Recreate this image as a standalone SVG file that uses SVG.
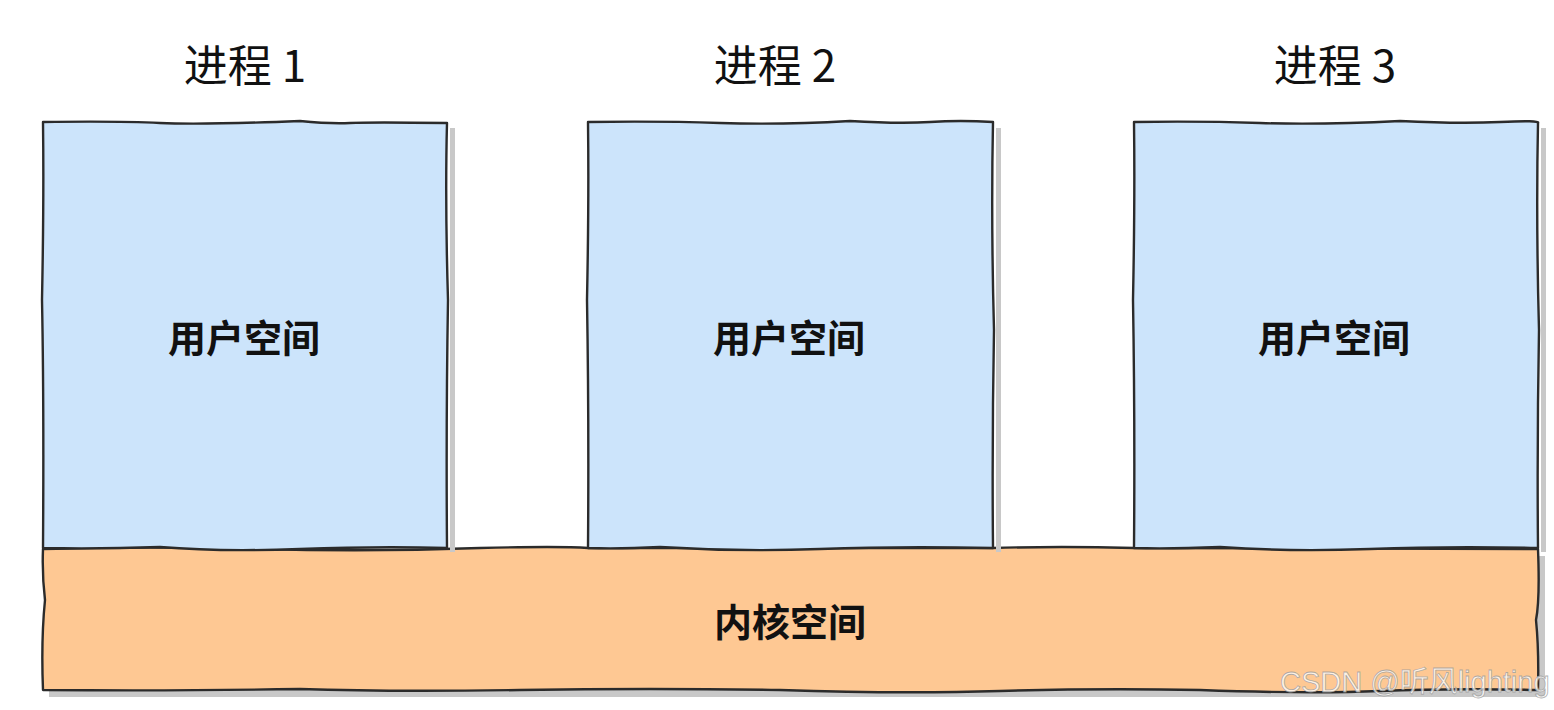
<svg xmlns="http://www.w3.org/2000/svg" width="1554" height="710" viewBox="0 0 1554 710">
<style>
.shadow{fill:#c8c8c8;stroke:none}
.user{fill:#cce4fb;stroke:#2b2b2b;stroke-width:2.4;stroke-linejoin:round}
.kern{fill:#fec893;stroke:#2b2b2b;stroke-width:2.4;stroke-linejoin:round}
.title{font-family:"Noto Sans CJK SC","Liberation Sans",sans-serif;font-size:44px;fill:#111;text-anchor:middle}
.lbl{font-family:"Noto Sans CJK SC","Liberation Sans",sans-serif;font-size:38px;font-weight:bold;fill:#111;text-anchor:middle}
.wm{font-family:"Liberation Sans","Noto Sans CJK SC",sans-serif;font-size:29px;fill:#ffffff;fill-opacity:0.75;stroke:#9a9a9a;stroke-width:0.8;stroke-opacity:0.8}
</style>
<rect width="1554" height="710" fill="#ffffff"/>
<g id="kernel">
<rect class="shadow" x="49" y="556" width="1496" height="141"/>
<path class="kern" d="M43,549 Q150,546 260,549 T480,548 Q560,546 588,548 L993,548 Q1060,546 1134,548 L1538,549 Q1540,600 1536,620 Q1539,650 1538,690 Q1450,688 1380,691 T1200,690 Q1100,688 1000,691 T780,690 Q650,688 520,690 T300,689 Q180,691 43,690 Q41,640 45,600 Q42,575 43,549 Z"/>
<text class="lbl" x="790" y="636">内核空间</text>
</g>
<g id="proc1">
<rect class="shadow" x="450" y="128" width="5" height="424"/>
<path class="user" d="M43,122 Q120,121 160,123 T300,121 Q330,124 350,123 T447,123 Q445,200 448,300 Q446,420 447,548 Q380,546 300,549 T160,547 Q100,549 43,548 Q44,400 42,300 Q44,200 43,122 Z"/>
<text class="title" x="245" y="82">进程 1</text>
<text class="lbl" x="244" y="352">用户空间</text>
</g>
<g id="proc2">
<rect class="shadow" x="996" y="128" width="5" height="424"/>
<path class="user" d="M588,122 Q660,121 720,123 T850,121 Q900,124 930,122 T993,122 Q991,220 994,330 Q992,440 993,548 Q900,546 820,549 T660,547 Q620,549 588,548 Q589,420 587,300 Q589,200 588,122 Z"/>
<text class="title" x="775" y="82">进程 2</text>
<text class="lbl" x="789" y="352">用户空间</text>
</g>
<g id="proc3">
<rect class="shadow" x="1541" y="128" width="5" height="424"/>
<path class="user" d="M1134,122 Q1200,121 1260,123 T1400,121 Q1460,124 1500,122 T1538,123 Q1536,220 1539,330 Q1537,440 1538,548 Q1450,546 1370,549 T1220,547 Q1170,549 1134,548 Q1135,420 1133,300 Q1135,200 1134,122 Z"/>
<text class="title" x="1335" y="82">进程 3</text>
<text class="lbl" x="1334" y="352">用户空间</text>
</g>
<g id="connectors"></g>
<text class="wm" x="1280" y="692">CSDN @听风lighting</text>
</svg>
